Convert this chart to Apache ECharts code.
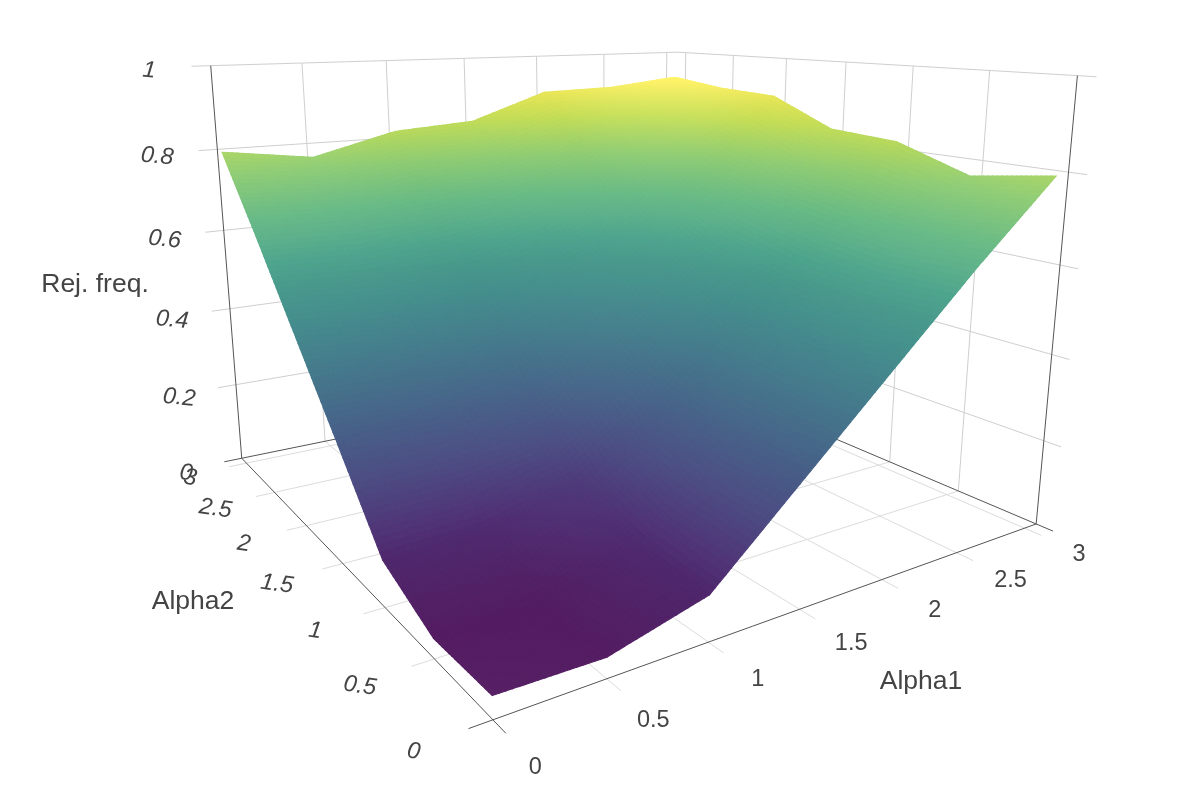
<!DOCTYPE html><html><head><meta charset="utf-8"><style>html,body{margin:0;background:#fff}#c{width:1200px;height:800px}</style>
<script src="https://cdn.jsdelivr.net/npm/echarts@6/dist/echarts.min.js"></script></head><body><div id="c"></div><script>
const alpha1=[0,0.5,1,1.5,2,2.5,3];
const alpha2=[0,0.5,1,1.5,2,2.5,3];
const zTicks=[0,0.2,0.4,0.6,0.8,1];
const rej0=[.045,.042,.096,.274,.452,.629,.795];
const rej1=[.041,.050,.110,.280,.440,.620,.768];
const rej2=[.101,.110,.160,.300,.460,.640,.823];
const rej3=[.279,.280,.300,.390,.510,.670,.834];
const rej4=[.454,.440,.460,.510,.600,.730,.902];
const rej5=[.629,.620,.640,.670,.730,.820,.910];
const rej6=[.797,.769,.821,.835,.903,.908,.929];
const Z=[rej0,rej1,rej2,rej3,rej4,rej5,rej6];
const viridis=['#440154','#482475','#414487','#355f8d','#2a788e','#21918c','#22a884','#44bf70','#7ad151','#bddf26','#fde725'];
const AMAX=3.09, OUT=0.10;
// perspective camera of the scene box
const CAM=[[301.096438,-36.543898,-74.395971,492.910032],[-0.026888,0.151482,-625.041417,719.821104],[0.120908,0.185067,-0.121608,1]];
const pr=(x,y,z)=>{const w=CAM[2][0]*x+CAM[2][1]*y+CAM[2][2]*z+1;return[(CAM[0][0]*x+CAM[0][1]*y+CAM[0][2]*z+CAM[0][3])/w,(CAM[1][0]*x+CAM[1][1]*y+CAM[1][2]*z+CAM[1][3])/w];};
const depth=(x,y,z)=>CAM[2][0]*x+CAM[2][1]*y+CAM[2][2]*z;
const flat=Z.flat(),zmin=Math.min(...flat),zmax=Math.max(...flat);
const rgb=h=>[1,3,5].map(i=>parseInt(h.substr(i,2),16));
const vir=viridis.map(rgb);
function cmap(t){t=Math.max(0,Math.min(1,t))*10;const i=Math.min(9,Math.floor(t)),f=t-i;return vir[i].map((c,k)=>c+(vir[i+1][k]-c)*f);}
const n=alpha1.length,step=0.5;
const nrm=Z.map((row,j)=>row.map((_,i)=>{const dx=(Z[j][Math.min(n-1,i+1)]-Z[j][Math.max(0,i-1)])/((Math.min(n-1,i+1)-Math.max(0,i-1))*step)*AMAX;
 const dy=(Z[Math.min(n-1,j+1)][i]-Z[Math.max(0,j-1)][i])/((Math.min(n-1,j+1)-Math.max(0,j-1))*step)*AMAX;
 const l=Math.hypot(dx,dy,1);return[-dx/l,-dy/l,1/l];}));
const bil=(a,b,c,d,u,v)=>a*(1-u)*(1-v)+b*u*(1-v)+c*(1-u)*v+d*u*v;
const SUB=18;
const zAt=(i,j,u,v)=>bil(Z[j][i],Z[j][i+1],Z[j+1][i],Z[j+1][i+1],u,v);
const cells=[];
for(let j=0;j<n-1;j++)for(let i=0;i<n-1;i++)for(let b=0;b<SUB;b++)for(let a=0;a<SUB;a++){
 const x=alpha1[i]+(a+.5)/SUB*step,y=alpha2[j]+(b+.5)/SUB*step,z=zAt(i,j,(a+.5)/SUB,(b+.5)/SUB);
 cells.push([i,j,a,b,depth(x,y,z)]);}
cells.sort((p,q)=>q[4]-p[4]);
const L=(()=>{const v=[.1,.1,1],l=Math.hypot(...v);return v.map(c=>c/l);})();
function shade(i,j,u,v){const z=zAt(i,j,u,v),t=(z-zmin)/(zmax-zmin),c=cmap(t);
 const N=[0,1,2].map(k=>bil(nrm[j][i][k],nrm[j][i+1][k],nrm[j+1][i][k],nrm[j+1][i+1][k],u,v));
 const d=Math.max(0,N[0]*L[0]+N[1]*L[1]+N[2]*L[2]);
 const w=Math.min(.26,0.045+0.33*t)+0.25*(d-0.7);
 const m=(t<.55?0.92-0.06*t/.55:0.86+0.14*(t-.55)/.45)+0.1*(d-0.7);
 return 'rgb('+c.map(q=>Math.round(Math.min(255,q*m+(255-q)*w))).join(',')+')';}
const segWall=[],segFloor=[],segAxis=[];
const tickA=[.5,1,1.5,2,2.5,3];
tickA.forEach(a=>{segWall.push([a,AMAX,0,a,AMAX,1]);segWall.push([AMAX,a,0,AMAX,a,1]);segFloor.push([a,-OUT,0,a,AMAX,0]);segFloor.push([-OUT,a,0,AMAX,a,0]);});
zTicks.slice(1).forEach(z=>{segWall.push([-OUT,AMAX,z,AMAX,AMAX,z]);segWall.push([AMAX,-OUT,z,AMAX,AMAX,z]);});
segAxis.push([-OUT,0,0,AMAX,0,0],[0,-OUT,0,0,AMAX,0],[-OUT,AMAX,0,AMAX,AMAX,0],[AMAX,-OUT,0,AMAX,AMAX,0],[0,AMAX,0,0,AMAX,1],[AMAX,0,0,AMAX,0,1]);
const lineSeries=(data,color,width)=>({type:'custom',coordinateSystem:'none',silent:true,animation:false,data,
 renderItem:(p,api)=>{const d=data[p.dataIndex],A=pr(d[0],d[1],d[2]),B=pr(d[3],d[4],d[5]);
  return{type:'line',shape:{x1:A[0],y1:A[1],x2:B[0],y2:B[1]},style:{stroke:color,lineWidth:width}};}});
const fmt=v=>String(v);
const lab=[];
alpha1.forEach(a=>lab.push([a,-0.32,0,fmt(a),0,'normal',-1,2]));
alpha2.forEach(a=>lab.push([-0.32,a,0,fmt(a),-0.14,'italic',1,3]));
zTicks.forEach(z=>lab.push([-0.33,AMAX,z,fmt(z),-0.1,'italic',3,3]));
const surface={type:'custom',coordinateSystem:'none',silent:true,animation:false,progressive:0,data:cells,
 renderItem:(p)=>{const [i,j,a,b]=cells[p.dataIndex];const u0=a/SUB,u1=(a+1)/SUB,v0=b/SUB,v1=(b+1)/SUB;
  const q=(u,v)=>pr(alpha1[i]+u*step,alpha2[j]+v*step,zAt(i,j,u,v));
  const col=shade(i,j,(u0+u1)/2,(v0+v1)/2);
  return{type:'polygon',shape:{points:[q(u0,v0),q(u1,v0),q(u1,v1),q(u0,v1)]},style:{fill:col,stroke:col,lineWidth:1.2}};}};
const labels={type:'custom',coordinateSystem:'none',silent:true,animation:false,data:lab,
 renderItem:(p)=>{const d=lab[p.dataIndex],q=pr(d[0],d[1],d[2]);
  return{type:'text',x:q[0]+d[6],y:q[1]+d[7],rotation:d[4],style:{text:d[3],fontSize:23.5,fontFamily:'Liberation Sans',fontStyle:d[5],fill:'#444',align:'center',verticalAlign:'middle'}};}};
const titles=[['Rej. freq.',95,285],['Alpha2',193,602],['Alpha1',921,682]];
const ch=echarts.init(document.getElementById('c'),null,{renderer:'canvas'});
ch.setOption({animation:false,backgroundColor:'#fff',
 graphic:titles.map(t=>({type:'text',x:t[1],y:t[2],z:100,style:{text:t[0],fontSize:26.5,fontFamily:'Liberation Sans',fill:'#444',align:'center',verticalAlign:'middle'}})),
 series:[lineSeries(segFloor,'#dcdcdc',1),lineSeries(segWall,'#cfcfcf',1),lineSeries(segAxis,'#555',1),surface,labels]});
</script></body></html>
